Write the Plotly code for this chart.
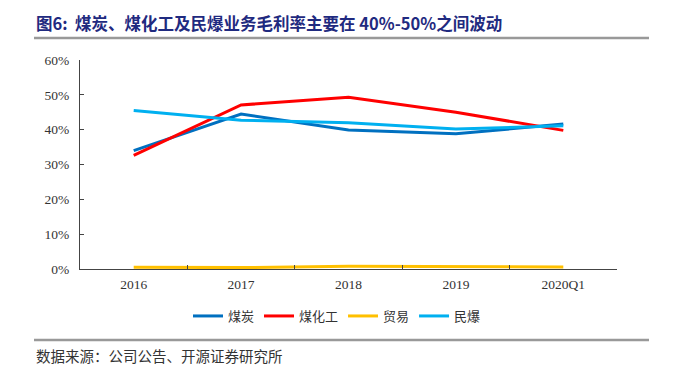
import plotly.graph_objects as go

categories = ["2016", "2017", "2018", "2019", "2020Q1"]
coal = [0.340, 0.445, 0.399, 0.388, 0.416]
coal_chem = [0.326, 0.471, 0.493, 0.450, 0.398]
trade = [0.005, 0.004, 0.008, 0.006, 0.006]
explosives = [0.455, 0.427, 0.420, 0.402, 0.411]

series = [
    ("煤炭", coal, "#0070C0"),
    ("煤化工", coal_chem, "#FF0000"),
    ("贸易", trade, "#FFC000"),
    ("民爆", explosives, "#00B0F0"),
]

OFF = 8  # default page body margin
W, H = 677 - OFF, 377 - OFF
L, T = 80 - OFF, 60 - OFF
pw, ph = 537, 209
R, B = W - L - pw, H - T - ph

def px(x):
    return (x - OFF - L) / pw

def py(y):
    return (T + ph - (y - OFF)) / ph

fig = go.Figure()
for name, vals, color in series:
    fig.add_trace(go.Scatter(x=categories, y=vals, name=name, mode="lines",
                             line=dict(color=color, width=3)))

serif = "Liberation Serif, Times New Roman, serif"
cjk = "Noto Sans CJK SC, sans-serif"

fig.update_layout(
    width=W, height=H,
    margin=dict(l=L, r=R, t=T, b=B),
    paper_bgcolor="white", plot_bgcolor="white",
    showlegend=True,
    legend=dict(orientation="h", x=px(337), xanchor="center", y=py(316), yanchor="middle",
                font=dict(family=cjk, size=13, color="#333333"),
                tracegroupgap=0, bgcolor="rgba(0,0,0,0)"),
    xaxis=dict(type="category", range=[-0.5, 4.5], showline=True, linecolor="#444444",
               linewidth=1, ticks="inside", tickson="boundaries", ticklen=4,
               tickcolor="#444444", showgrid=False, zeroline=False, ticklabelstandoff=3,
               tickfont=dict(family=serif, size=13.5, color="#333333")),
    yaxis=dict(range=[0, 0.6], dtick=0.1, tickformat=".0%", showline=True,
               linecolor="#444444", linewidth=1, ticks="inside", ticklen=4,
               tickcolor="#444444", showgrid=False, zeroline=False, ticklabelstandoff=7,
               tickfont=dict(family=serif, size=13.5, color="#333333")),
    shapes=[
        dict(type="line", xref="paper", yref="paper", x0=px(34), x1=px(649), y0=py(38), y1=py(38),
             line=dict(color="#999999", width=2.5)),
        dict(type="line", xref="paper", yref="paper", x0=px(34), x1=px(649), y0=py(340), y1=py(340),
             line=dict(color="#999999", width=2.5)),
    ],
    annotations=[
        dict(text="<b>图6:  煤炭、煤化工及民爆业务毛利率主要在 40%-50%之间波动</b>",
             xref="paper", yref="paper", x=px(34), y=py(23), xanchor="left", yanchor="middle",
             showarrow=False, font=dict(family=cjk, size=16.5, color="#1F2A80")),
        dict(text="数据来源：公司公告、开源证券研究所",
             xref="paper", yref="paper", x=px(34), y=py(355), xanchor="left", yanchor="middle",
             showarrow=False, font=dict(family=cjk, size=14.5, color="#333333")),
    ],
)

fig.write_html("out.html")
